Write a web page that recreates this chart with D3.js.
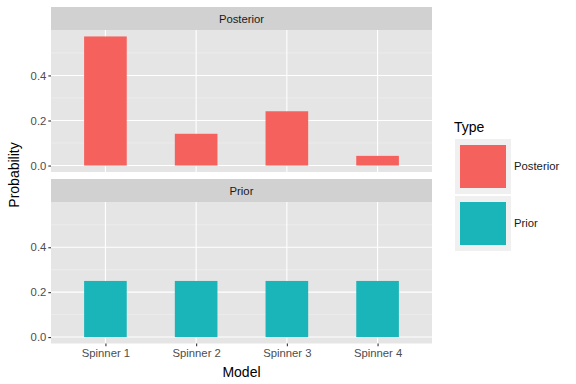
<!DOCTYPE html>
<html lang="en">
<head>
<meta charset="UTF-8">
<title>Spinner probabilities</title>
<script src="https://d3js.org/d3.v7.min.js"></script>
<style>
    body { margin: 0; background: #fff; }
    text { font-family: "Liberation Sans", Arial, sans-serif; }
</style>
</head>
<body>
<svg width="576" height="384"></svg>
<script>
    // data
    var models = ["Spinner 1", "Spinner 2", "Spinner 3", "Spinner 4"];
    var types = ["Posterior", "Prior"];
    var posterior = [0.573, 0.141, 0.241, 0.043];
    var prior = [0.25, 0.25, 0.25, 0.25];
    var yTicks = [0, 0.2, 0.4];
    var yMinor = [0.1, 0.3, 0.5];

    var colors = { Posterior: "#F5615C", Prior: "#1AB5B9" };
    var seriesValues = { Posterior: posterior, Prior: prior };

    var svg = d3.select("svg");

    var left = 51, right = 432;
    var panels = [
        { type: "Posterior", stripTop: 7, top: 30, bottom: 172 },
        { type: "Prior", stripTop: 179, top: 202, bottom: 343.5 }
    ];

    // ggplot discrete expand: 0.6 of a step each side
    var step = (right - left) / (models.length - 1 + 1.2);
    var x = d3.scalePoint().domain(models).range([left + 0.6 * step, right - 0.6 * step]);
    var barW = 0.47 * step;

    var ymax = d3.max(posterior.concat(prior));
    var ydom = [-0.05 * ymax, ymax * 1.05];

    panels.forEach(function(p, pi) {
        var y = d3.scaleLinear().domain(ydom).range([p.bottom, p.top]);
        var g = svg.append("g");

        // strip
        g.append("rect").attr("x", left).attr("y", p.stripTop)
            .attr("width", right - left).attr("height", p.top - p.stripTop)
            .attr("fill", "#D1D1D1");
        g.append("text").attr("x", (left + right) / 2).attr("y", p.top - 7)
            .attr("text-anchor", "middle").attr("font-size", "11.3px")
            .attr("fill", "#1A1A1A").text(p.type);

        // panel background + grid
        g.append("rect").attr("x", left).attr("y", p.top)
            .attr("width", right - left).attr("height", p.bottom - p.top)
            .attr("fill", "#E5E5E5");

        g.selectAll(".minor").data(yMinor).enter().append("line")
            .attr("x1", left).attr("x2", right)
            .attr("y1", function(d) { return y(d); }).attr("y2", function(d) { return y(d); })
            .attr("stroke", "#F2F2F2").attr("stroke-width", 0.55);
        g.selectAll(".major").data(yTicks).enter().append("line")
            .attr("x1", left).attr("x2", right)
            .attr("y1", function(d) { return y(d); }).attr("y2", function(d) { return y(d); })
            .attr("stroke", "#fff").attr("stroke-width", 1.1);
        g.selectAll(".vgrid").data(models).enter().append("line")
            .attr("x1", function(d) { return x(d); }).attr("x2", function(d) { return x(d); })
            .attr("y1", p.top).attr("y2", p.bottom)
            .attr("stroke", "#fff").attr("stroke-width", 1.1);

        // bars
        var vals = seriesValues[p.type];
        g.selectAll(".bar").data(models).enter().append("rect")
            .attr("x", function(d) { return x(d) - barW / 2; })
            .attr("width", barW)
            .attr("y", function(d, i) { return y(vals[i]); })
            .attr("height", function(d, i) { return y(0) - y(vals[i]); })
            .attr("fill", colors[p.type]);

        // y axis
        var ya = g.append("g").attr("transform", "translate(" + left + ",0)")
            .call(d3.axisLeft(y).tickValues(yTicks).tickFormat(d3.format(".1f")).tickSize(2.7).tickPadding(2));
        ya.select(".domain").remove();
        ya.selectAll("line").attr("stroke", "#333").attr("stroke-width", 1.1);
        ya.selectAll("text").attr("font-size", "11.3px").attr("fill", "#4D4D4D");

        // x axis only under the last panel
        if (pi === panels.length - 1) {
            var xa = g.append("g").attr("transform", "translate(0," + p.bottom + ")")
                .call(d3.axisBottom(x).tickSize(2.7).tickPadding(3));
            xa.select(".domain").remove();
            xa.selectAll("line").attr("stroke", "#333").attr("stroke-width", 1.1);
            xa.selectAll("text").attr("font-size", "11.3px").attr("fill", "#4D4D4D");
        }
    });

    // axis titles
    svg.append("text").attr("x", (left + right) / 2).attr("y", 377)
        .attr("text-anchor", "middle").attr("font-size", "14px").attr("fill", "#000").text("Model");
    svg.append("text").attr("transform", "translate(19,175) rotate(-90)")
        .attr("text-anchor", "middle").attr("font-size", "14px").attr("fill", "#000").text("Probability");

    // legend
    var lg = svg.append("g");
    lg.append("text").attr("x", 454).attr("y", 132).attr("font-size", "14px").attr("fill", "#000").text("Type");
    types.forEach(function(t, i) {
        var ky = 139 + i * 57;
        lg.append("rect").attr("x", 455).attr("y", ky).attr("width", 56).attr("height", 55).attr("fill", "#F0F0F0");
        lg.append("rect").attr("x", 460).attr("y", ky + 6).attr("width", 46).attr("height", 43).attr("fill", colors[t]);
        lg.append("text").attr("x", 514).attr("y", ky + 31).attr("font-size", "11.3px").attr("fill", "#1A1A1A").text(t);
    });
</script>
</body>
</html>
